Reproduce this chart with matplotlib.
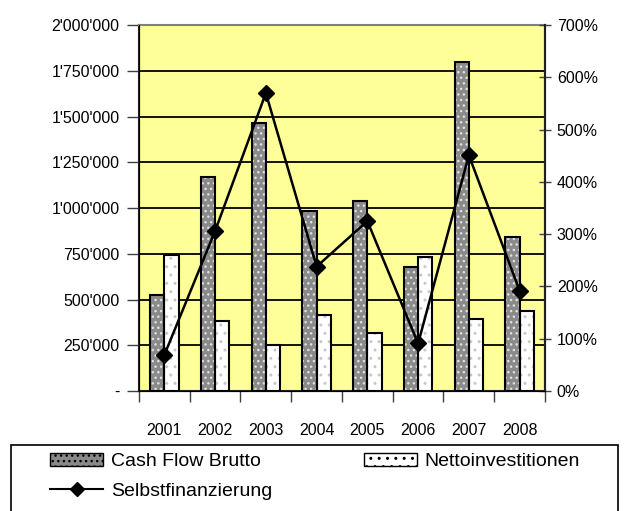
import matplotlib.pyplot as plt
import matplotlib.ticker as mticker
import numpy as np
from matplotlib.lines import Line2D
from matplotlib.patches import Patch, Rectangle

years = ['2001', '2002', '2003', '2004', '2005', '2006', '2007', '2008']
cash_flow = [524000, 1171000, 1466000, 985000, 1040000, 679000, 1796000, 843000]
netto_inv = [743000, 384000, 251000, 415000, 315000, 734000, 395000, 439000]
selbstfin = [69, 306, 570, 238, 325, 91, 451, 192]

plt.rcParams['font.family'] = ['Liberation Sans', 'DejaVu Sans']
plt.rcParams['hatch.linewidth'] = 1.0

fig = plt.figure(figsize=(6.28, 5.11), dpi=100)
ax = fig.add_axes([0.2213, 0.2348, 0.6465, 0.7162])
ax.set_facecolor('#ffff99')

x = np.arange(len(years))
w = 0.28
# cash flow: grey with white pattern, then black outline
ax.bar(x - w / 2, cash_flow, w, color='#8a8a8a', edgecolor='#e0e0e0', hatch='...', lw=0, zorder=3)
ax.bar(x - w / 2, cash_flow, w, fill=False, edgecolor='black', lw=1.5, zorder=4)
# netto investitionen: white with light grey dots
ax.bar(x + w / 2, netto_inv, w, color='white', edgecolor='#c8c8c8', hatch='..', lw=0, zorder=3)
ax.bar(x + w / 2, netto_inv, w, fill=False, edgecolor='black', lw=1.5, zorder=4)

ax.set_xlim(-0.5, len(years) - 0.5)
ax.set_ylim(0, 2000000)
ax.set_yticks(np.arange(0, 2000001, 250000))
ax.yaxis.set_major_formatter(mticker.FuncFormatter(
    lambda v, p: '-' if v == 0 else '{:,.0f}'.format(v).replace(',', "'")))
ax.grid(axis='y', color='black', lw=1.3, zorder=1)
ax.set_axisbelow(True)

ax.set_xticks(np.arange(-0.5, len(years)), minor=False)
ax.set_xticklabels([])
ax.set_xticks(x, minor=True)
ax.set_xticklabels(years, minor=True)
ax.tick_params(axis='x', which='major', length=8, width=1, color='#404040')
ax.tick_params(axis='x', which='minor', length=0, pad=23, labelsize=11.5)
ax.tick_params(axis='y', length=9, width=1, labelsize=11.5, pad=5, color='#404040')

for s in ['left', 'bottom', 'right']:
    ax.spines[s].set_color('#202020')
    ax.spines[s].set_linewidth(1.5)
ax.spines['top'].set_color('#808080')
ax.spines['top'].set_linewidth(1.5)

ax2 = ax.twinx()
ax2.plot(x, selbstfin, color='black', marker='D', markersize=8, lw=1.8, zorder=5)
ax2.set_ylim(0, 700)
ax2.set_yticks(np.arange(0, 701, 100))
ax2.yaxis.set_major_formatter(mticker.FuncFormatter(lambda v, p: '%d%%' % v))
ax2.tick_params(axis='y', length=9, width=1, labelsize=11.5, direction='inout', pad=4, color='#404040')
ax2.spines['right'].set_color('#202020')
ax2.spines['right'].set_linewidth(1.5)
ax2.spines['top'].set_visible(False)

# legend frame
fig.patches.append(Rectangle((11 / 628, -0.02), 607 / 628, 0.149, transform=fig.transFigure,
                             facecolor='white', edgecolor='black', lw=1.2, zorder=0))

handles = [
    Patch(facecolor='#8a8a8a', edgecolor='black', hatch='...', label='Cash Flow Brutto'),
    Line2D([], [], color='black', marker='D', markersize=7, lw=1.5, label='Selbstfinanzierung'),
    Patch(facecolor='white', edgecolor='black', hatch='..', label='Nettoinvestitionen'),
]
leg = fig.legend(handles=handles, ncol=2, loc='upper left', mode='expand',
                 bbox_to_anchor=(50 / 628, 0.0, 530 / 628, 0.1135), fontsize=14,
                 frameon=False, handlelength=2.73, handleheight=0.67, borderpad=0,
                 labelspacing=0.6, handletextpad=0.4, borderaxespad=0)

plt.savefig('out.png', dpi=100)
